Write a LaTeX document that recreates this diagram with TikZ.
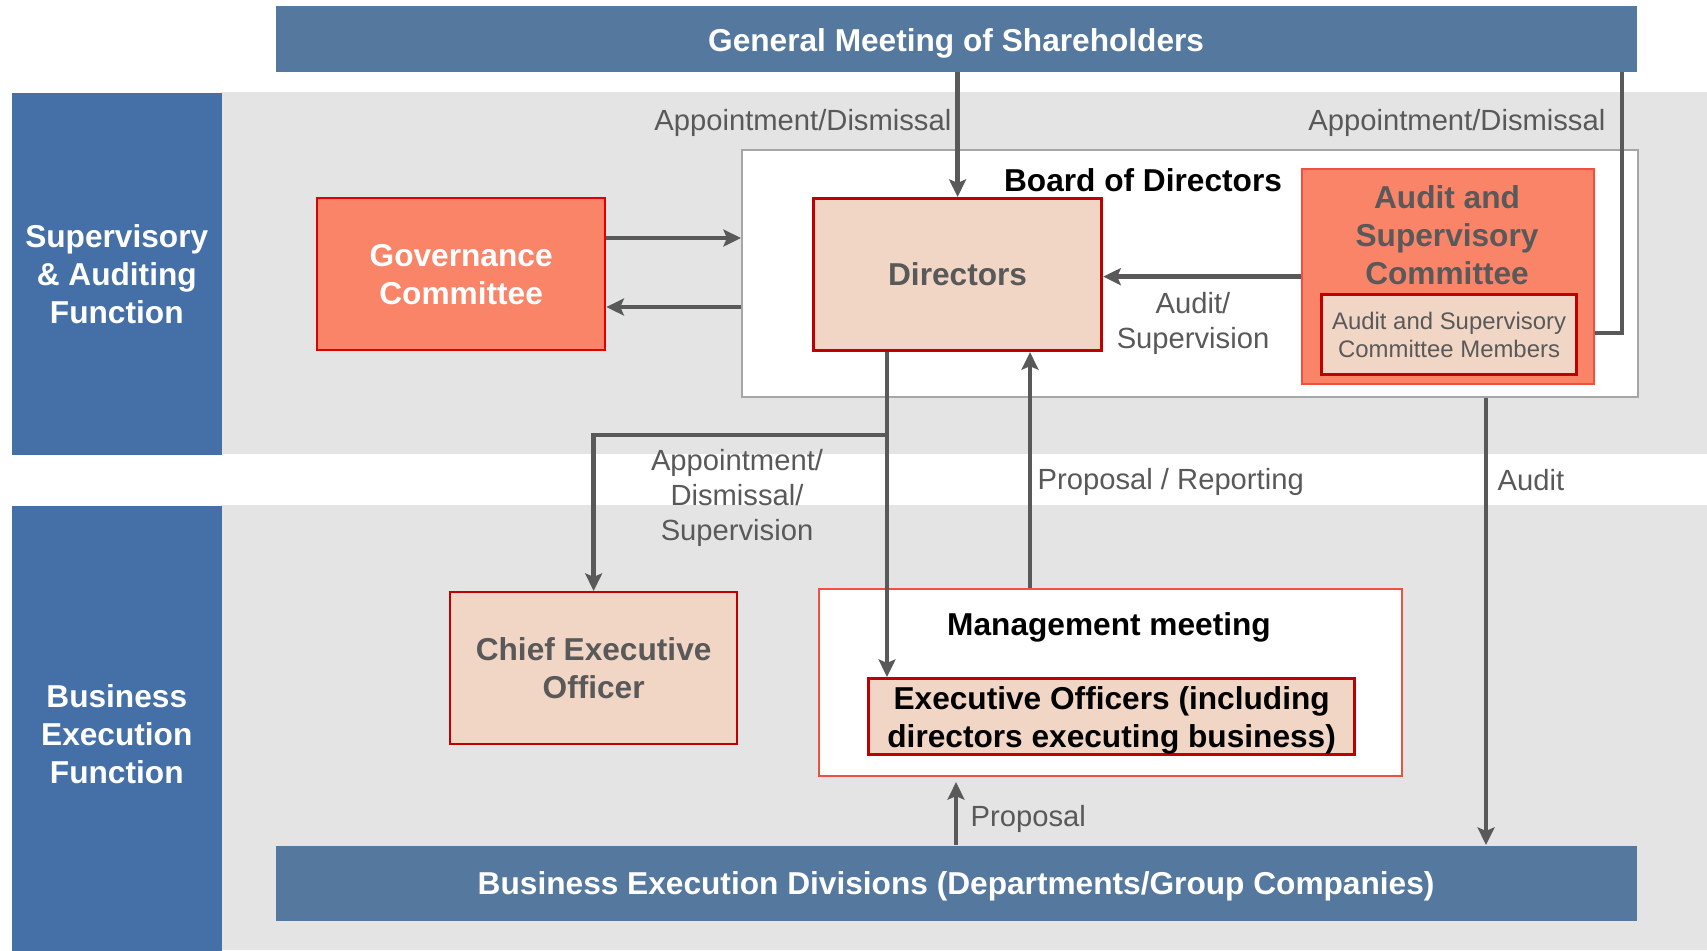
\documentclass[tikz,border=0pt]{standalone}
\usepackage{fontspec}
\setmainfont{Liberation Sans}
\usetikzlibrary{arrows.meta}

\definecolor{sideblue}{HTML}{4470A7}
\definecolor{barblue}{HTML}{55789E}
\definecolor{bandgrey}{HTML}{E4E4E4}
\definecolor{salmon}{HTML}{F98468}
\definecolor{peach}{HTML}{F1D6C6}
\definecolor{darkred}{HTML}{C00000}
\definecolor{brightred}{HTML}{E00000}
\definecolor{lightred}{HTML}{F0503E}
\definecolor{arrowgrey}{HTML}{595959}
\definecolor{boxgrey}{HTML}{A6A6A6}

\newcommand{\boxfont}{\fontsize{9}{10.8}\selectfont\bfseries}
\newcommand{\lblfont}{\fontsize{8.3}{9.9}\selectfont}
\newcommand{\memfont}{\fontsize{6.8}{8}\selectfont}

\begin{document}
\begin{tikzpicture}[x=0.01cm,y=-0.01cm]
    \tikzstyle{arrow} = [-{Stealth[length=5pt,width=4.8pt,inset=1pt]},
        line width=1.3pt, draw=arrowgrey]
    \tikzstyle{conn} = [line width=1.3pt, draw=arrowgrey]
    \tikzstyle{bar} = [rectangle, fill=barblue, text=white, font=\boxfont,
        inner sep=0pt, minimum width=13.6cm, text depth=0pt]
    \tikzstyle{side} = [rectangle, fill=sideblue, text=white, font=\boxfont,
        align=center, inner sep=0pt, minimum width=2.1cm]
    \tikzstyle{rec} = [rectangle, draw=darkred, fill=peach, text=arrowgrey,
        font=\boxfont, align=center, inner sep=0pt]
    \tikzstyle{lbl} = [text=arrowgrey, font=\lblfont, align=center,
        inner sep=0pt, text depth=0pt]

    \useasboundingbox (0,0) rectangle (1707,950);
    \fill[bandgrey] (221,92) rectangle (1707,454);
    \fill[bandgrey] (221,505) rectangle (1707,950);
    %\draw[step=100,gray,very thin] (0,0) grid (1707,950);

    \node(sideup) [side, minimum height=3.62cm]
        at (11,92) [anchor=north west]
        {Supervisory\\\& Auditing\\Function};

    \node(sidedown) [side, minimum height=4.56cm]
        at (11,505) [anchor=north west]
        {Business\\Execution\\Function};

    \node(gms) [bar, minimum height=0.66cm, text height=7.4pt]
        at (275,5) [anchor=north west]
        {General Meeting of Shareholders};

    \node(bed) [bar, minimum height=0.75cm, text height=6.45pt]
        at (275,845) [anchor=north west]
        {Business Execution Divisions (Departments/Group Companies)};

    \node(board) [rectangle, draw=boxgrey, fill=white, line width=0.6pt,
        minimum width=8.95cm, minimum height=2.47cm]
        at (741,149) [anchor=north west] {};

    \node(bodlbl) [font=\boxfont, inner sep=0pt] at (1143,180)
        {Board of Directors};

    \node(gov) [rectangle, draw=brightred, fill=salmon, text=white,
        font=\boxfont, align=center, line width=0.6pt,
        minimum width=2.88cm, minimum height=1.52cm]
        at (316,197) [anchor=north west]
        {Governance\\Committee};

    \node(dirs) [rec, line width=0.85pt, minimum width=2.88cm, minimum height=1.52cm]
        at (812,197) [anchor=north west]
        {Directors};

    \node(asc) [rectangle, draw=lightred, fill=salmon, line width=0.6pt,
        minimum width=2.92cm, minimum height=2.15cm]
        at (1301,168) [anchor=north west] {};

    \node(asclbl) [text=arrowgrey, font=\boxfont, align=center, inner sep=0pt]
        at (1447,235)
        {Audit and\\Supervisory\\Committee};

    \node(ascm) [rec, font=\memfont, line width=0.85pt,
        minimum width=2.55cm, minimum height=0.8cm]
        at (1320,293) [anchor=north west]
        {Audit and Supervisory\\Committee Members};

    \node(ceo) [rec, line width=0.6pt, minimum width=2.87cm, minimum height=1.52cm]
        at (449,591) [anchor=north west]
        {Chief Executive\\Officer};

    \node(mm) [rectangle, draw=lightred, fill=white, line width=0.6pt,
        minimum width=5.83cm, minimum height=1.87cm]
        at (818,588) [anchor=north west] {};

    \node(mmlbl) [font=\boxfont, inner sep=0pt, text depth=0pt] at (1109,624)
        {Management meeting};

    \node(exo) [rec, text=black, line width=0.85pt, text depth=0pt,
        minimum width=4.86cm, minimum height=0.76cm]
        at (867,677) [anchor=north west]
        {Executive Officers (including\\directors executing business)};

    \node(appl) [lbl, anchor=east] at (952,120) {Appointment/Dismissal};
    \node(appr) [lbl, anchor=east] at (1606,120) {Appointment/Dismissal};
    \node(audsup) [lbl] at (1193,320) {Audit/\\Supervision};
    \node(appdis) [lbl] at (737,495) {Appointment/\\Dismissal/\\Supervision};
    \node(proprep) [lbl, anchor=west] at (1037,479) {Proposal / Reporting};
    \node(audlbl) [lbl, anchor=west] at (1497,480) {Audit};
    \node(proplbl) [lbl, anchor=west] at (970,816) {Proposal};

    \coordinate (gmsr) at (1622,333);
    \coordinate (split) at (887,435);
    \coordinate (propend) at (956,782);

    \draw[arrow] (gms.south -| dirs.north) -- (dirs.north);
    \draw[conn] (gms.south -| gmsr) -- (gmsr) -- (gmsr -| asc.east);
    \draw[arrow] (gov.east |- 0,238) -- (board.west |- 0,238);
    \draw[arrow] (board.west |- 0,307) -- (gov.east |- 0,307);
    \draw[arrow] (asc.west) -- (asc.west -| dirs.east);
    \draw[arrow] (split |- dirs.south) -- (split |- exo.north);
    \draw[arrow] (split) -| (ceo.north);
    \draw[arrow] (mm.north -| 1030,0) -- (dirs.south -| 1030,0);
    \draw[arrow] (board.south -| 1486,0) -- (bed.north -| 1486,0);
    \draw[arrow] (bed.north -| propend) -- (propend);
\end{tikzpicture}
\end{document}
